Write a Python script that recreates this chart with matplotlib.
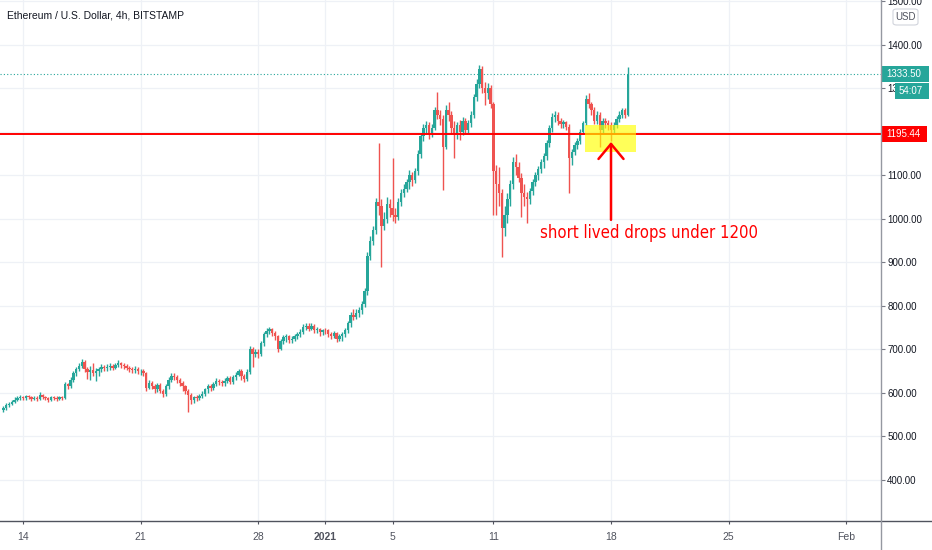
"""ETH/USD 4h candles (Bitstamp) with the 1195 support line and the drop-zone note."""

import matplotlib

matplotlib.use("Agg")

import matplotlib.dates as mdates
import matplotlib.pyplot as plt
import pandas as pd
from matplotlib import font_manager
from matplotlib.font_manager import FontProperties
from matplotlib.lines import Line2D
from matplotlib.patches import FancyBboxPatch, Rectangle
from matplotlib.transforms import blended_transform_factory


# ---- data (4h candles, first one Dec 12 20:00) ----
START = "2020-12-12 20:00"
FIRST_OPEN = 560

CLOSES = [
    565,
    572, 575, 580, 585, 588, 590,          # Dec 13
    588, 592, 590, 586, 589, 587,          # Dec 14
    596, 590, 588, 585, 590, 588,          # Dec 15
    586, 590, 588, 620, 615, 630,          # Dec 16
    645, 655, 662, 672, 655, 648,          # Dec 17
    652, 645, 650, 655, 660, 658,          # Dec 18
    660, 662, 658, 665, 668, 664,          # Dec 19
    662, 658, 656, 652, 655, 650,          # Dec 20
    650, 645, 612, 622, 615, 610,          # Dec 21
    618, 605, 598, 615, 630, 640,          # Dec 22
    636, 630, 622, 615, 605, 596,          # Dec 23
    585, 590, 588, 594, 598, 608,          # Dec 24
    615, 612, 620, 628, 625, 622,          # Dec 25
    628, 634, 626, 636, 642, 650,          # Dec 26
    638, 632, 648, 700, 690, 695,          # Dec 27
    690, 715, 735, 742, 748, 738,          # Dec 28
    730, 702, 720, 728, 730, 722,          # Dec 29
    725, 730, 735, 740, 752, 755,          # Dec 30
    748, 755, 745, 748, 740, 745,          # Dec 31
    744, 735, 730, 738, 725, 730,          # Jan 1
    735, 745, 760, 780, 775, 785,          # Jan 2
    790, 805, 835, 915, 950, 975,          # Jan 3
    1040, 1030, 985, 1000, 1035, 1025,     # Jan 4
    1010, 1005, 1040, 1060, 1070, 1085,    # Jan 5
    1100, 1090, 1110, 1150, 1190, 1210,    # Jan 6
    1215, 1195, 1210, 1250, 1240, 1230,    # Jan 7
    1165, 1250, 1240, 1210, 1195, 1215,    # Jan 8
    1200, 1225, 1205, 1220, 1240, 1280,    # Jan 9
    1310, 1345, 1300, 1290, 1300, 1265,    # Jan 10
    1110, 1080, 1060, 980, 1010, 1045,     # Jan 11
    1080, 1130, 1120, 1095, 1060, 1050,    # Jan 12
    1045, 1065, 1085, 1100, 1115, 1130,    # Jan 13
    1145, 1175, 1210, 1235, 1240, 1225,    # Jan 14
    1218, 1222, 1212, 1140, 1155, 1170,    # Jan 15
    1180, 1200, 1220, 1275, 1265, 1250,    # Jan 16
    1225, 1240, 1205, 1225, 1220, 1215,    # Jan 17
    1205, 1215, 1230, 1240, 1250, 1240,    # Jan 18
    1333.5,
]

HIGHS = [
    570,
    576, 580, 584, 590, 593, 595,
    594, 596, 596, 593, 593, 592,
    602, 598, 593, 590, 594, 593,
    592, 594, 593, 626, 624, 636,
    650, 660, 668, 678, 675, 660,
    662, 668, 658, 660, 666, 665,
    666, 668, 666, 670, 676, 672,
    670, 666, 662, 660, 662, 660,
    656, 655, 648, 630, 628, 620,
    624, 622, 610, 620, 636, 646,
    646, 642, 634, 628, 618, 610,
    600, 594, 596, 598, 604, 612,
    620, 620, 625, 635, 632, 630,
    634, 640, 638, 642, 648, 656,
    655, 644, 654, 708, 706, 702,
    702, 720, 740, 750, 752, 750,
    742, 734, 724, 734, 736, 734,
    732, 736, 740, 746, 758, 760,
    760, 760, 758, 752, 750, 748,
    750, 748, 740, 742, 740, 735,
    740, 750, 766, 786, 792, 792,
    798, 812, 842, 925, 962, 985,
    1048, 1175, 1045, 1015, 1050, 1045,
    1140, 1025, 1048, 1068, 1080, 1092,
    1112, 1108, 1118, 1158, 1198, 1218,
    1225, 1222, 1218, 1258, 1292, 1250,
    1240, 1262, 1268, 1248, 1225, 1222,
    1228, 1235, 1232, 1228, 1248, 1288,
    1322, 1354, 1352, 1315, 1312, 1308,
    1270, 1125, 1120, 1070, 1030, 1060,
    1090, 1143, 1150, 1130, 1105, 1080,
    1062, 1072, 1092, 1108, 1122, 1138,
    1152, 1182, 1216, 1244, 1248, 1245,
    1232, 1228, 1226, 1218, 1162, 1176,
    1186, 1206, 1226, 1285, 1290, 1270,
    1258, 1248, 1245, 1232, 1232, 1228,
    1222, 1222, 1236, 1248, 1256, 1255,
    1350,
]

LOWS = [
    556,
    562, 568, 572, 577, 582, 584,
    584, 585, 586, 582, 583, 582,
    584, 586, 584, 580, 582, 583,
    581, 583, 583, 586, 608, 612,
    625, 640, 650, 658, 648, 632,
    630, 638, 628, 640, 648, 650,
    650, 653, 652, 655, 660, 658,
    655, 652, 649, 645, 646, 644,
    642, 638, 605, 608, 608, 600,
    602, 600, 590, 594, 608, 625,
    630, 624, 616, 605, 598, 556,
    575, 578, 582, 584, 588, 594,
    600, 605, 606, 615, 618, 615,
    616, 622, 620, 620, 630, 638,
    630, 626, 628, 644, 660, 682,
    680, 686, 708, 728, 736, 730,
    722, 695, 698, 712, 718, 715,
    716, 720, 724, 728, 736, 745,
    742, 744, 738, 738, 732, 734,
    736, 728, 724, 726, 718, 720,
    720, 728, 738, 752, 768, 770,
    775, 782, 798, 826, 905, 940,
    965, 1010, 890, 975, 990, 1005,
    995, 990, 998, 1030, 1050, 1062,
    1070, 1075, 1082, 1102, 1140, 1180,
    1195, 1185, 1188, 1205, 1230, 1215,
    1067, 1160, 1225, 1195, 1140, 1185,
    1182, 1192, 1195, 1196, 1212, 1232,
    1272, 1300, 1290, 1262, 1275, 1255,
    1010, 1010, 1030, 913, 960, 990,
    1030, 1070, 1100, 1085, 1005, 1030,
    990, 1035, 1055, 1075, 1090, 1105,
    1118, 1135, 1165, 1200, 1222, 1215,
    1208, 1210, 1205, 1060, 1125, 1148,
    1160, 1172, 1195, 1215, 1255, 1240,
    1218, 1218, 1166, 1198, 1210, 1205,
    1180, 1198, 1208, 1222, 1232, 1232,
    1236,
]

SUPPORT = 1195.44
LAST_PRICE = 1333.50
COUNTDOWN = "54:07"
TICK_DATES = ["2020-12-14", "2020-12-21", "2020-12-28", "2021-01-01", "2021-01-05",
              "2021-01-11", "2021-01-18", "2021-01-25", "2021-02-01"]
TICK_LABELS = ["14", "21", "28", "2021", "5", "11", "18", "25", "Feb"]
PRICE_TICKS = list(range(400, 1600, 100))
ZONE_START, ZONE_END = "2021-01-16 10:50", "2021-01-19 12:00"
ZONE_LOW, ZONE_HIGH = 1154, 1216
NOTE = "short lived drops under 1200"

# ---- styling ----
W, H = 932, 550
UP, DOWN = "#26a69a", "#ef5350"
LINE_RED = "#ff0000"
TEXT = "#131722"
AXIS_TEXT = "#50535e"
GRID = "#eef1f6"
NOTE_WIDTH_PX = 218

plt.rcParams["font.family"] = ["Liberation Sans", "DejaVu Sans"]


def find_condensed_font():
    """Path of an installed condensed regular sans; DejaVu Sans Condensed first."""
    candidates = []
    for entry in font_manager.fontManager.ttflist:
        narrow = ("Narrow" in entry.name or "Condensed" in entry.name
                  or "Condensed" in entry.fname
                  or entry.stretch in ("condensed", "semi-condensed"))
        regular = entry.style == "normal" and entry.weight in (400, "normal", "regular")
        if narrow and regular:
            rank = 0 if "DejaVuSansCondensed.ttf" in entry.fname else 1
            candidates.append((rank, entry.fname))
    return min(candidates)[1] if candidates else None


condensed_path = find_condensed_font()
if condensed_path:
    note_font = FontProperties(fname=condensed_path, size=12)
else:
    note_font = FontProperties(family=["Liberation Sans", "DejaVu Sans"], size=12)

fig = plt.figure(figsize=(W / 100, H / 100), dpi=100)
ax = fig.add_axes([0, 29 / H, 881 / W, 521 / H])

day0 = mdates.date2num(pd.Timestamp("2020-12-14"))
px_per_day = 16.8
ax.set_xlim(day0 - 23 / px_per_day, day0 + 858 / px_per_day)
ymin, ymax = 305.7, 1503.4
ax.set_ylim(ymin, ymax)
price_per_px = (ymax - ymin) / 521

# candles
times = pd.date_range(START, periods=len(CLOSES), freq="4h")
xs = mdates.date2num(times.to_pydatetime())
opens = [FIRST_OPEN] + CLOSES[:-1]
colors = [UP if c >= o else DOWN for o, c in zip(opens, CLOSES)]
bottoms = [min(o, c) for o, c in zip(opens, CLOSES)]
heights = [max(abs(c - o), 1.5) for o, c in zip(opens, CLOSES)]

ax.vlines(xs, LOWS, HIGHS, colors=colors, linewidth=1.0, zorder=2)
ax.bar(xs, heights, bottom=bottoms, width=0.15, color=colors, linewidth=0, zorder=2)

# last price (dotted), support line, and the highlighted zone on top of it
ax.axhline(LAST_PRICE, color=UP, linewidth=0.8, linestyle=(0, (1, 2)), zorder=1.8)
ax.axhline(SUPPORT, color=LINE_RED, linewidth=1.4, zorder=4)
zs, ze = mdates.date2num(pd.Timestamp(ZONE_START)), mdates.date2num(pd.Timestamp(ZONE_END))
ax.add_patch(Rectangle((zs, ZONE_LOW), ze - zs, ZONE_HIGH - ZONE_LOW,
                       facecolor="#ffff00", alpha=0.65, edgecolor="none", zorder=4.5))

# annotation
arrow_x = mdates.date2num(pd.Timestamp("2021-01-18"))
ax.annotate(
    "",
    xy=(arrow_x, 1177),
    xytext=(arrow_x, 998),
    arrowprops=dict(arrowstyle="->,head_length=0.72,head_width=0.6", color=LINE_RED,
                    linewidth=1.8, mutation_scale=15, shrinkA=0, shrinkB=0),
    zorder=5,
)
note = ax.text(mdates.date2num(pd.Timestamp("2021-01-20 06:15")), 956, NOTE, ha="center",
               va="baseline", color=LINE_RED, fontproperties=note_font, zorder=5)

# axes look
for spine in ax.spines.values():
    spine.set_visible(False)
ax.set_xticks(mdates.date2num(pd.to_datetime(TICK_DATES)))
ax.set_xticklabels(TICK_LABELS)
ax.get_xticklabels()[3].set_fontweight("bold")
ax.set_yticks(PRICE_TICKS)
# the 1200 label sits fully under the support tag on the original, so leave it blank
ax.set_yticklabels(["" if p == 1200 else f"{p:.2f}" for p in PRICE_TICKS])
ax.yaxis.tick_right()
ax.tick_params(axis="x", length=2.2, width=0.8, pad=6, labelsize=7.5,
               color=AXIS_TEXT, labelcolor=AXIS_TEXT)
ax.tick_params(axis="y", length=3, width=0.8, pad=1.5, labelsize=7,
               color="#787b86", labelcolor=TEXT)
ax.grid(True, color=GRID, linewidth=0.9)

fig.add_artist(Line2D([0, 1], [29 / H, 29 / H], transform=fig.transFigure,
                      color=AXIS_TEXT, linewidth=1))
fig.add_artist(Line2D([881 / W, 881 / W], [0, 1], transform=fig.transFigure,
                      color="#9598a1", linewidth=1))

# price tags on the scale
tag_trans = blended_transform_factory(fig.transFigure, ax.transData)


def price_tag(price, label, facecolor, left_px, right_px):
    h = 16 * price_per_px
    ax.add_patch(Rectangle((left_px / W, price - h / 2), (right_px - left_px) / W, h,
                           transform=tag_trans, facecolor=facecolor, edgecolor="none",
                           clip_on=False, zorder=6))
    ax.text((left_px + 4) / W, price, label, transform=tag_trans, ha="left", va="center",
            color="white", fontsize=7, clip_on=False, zorder=7)


price_tag(SUPPORT, f"{SUPPORT:.2f}", LINE_RED, 882, 927)
price_tag(LAST_PRICE, f"{LAST_PRICE:.2f}", UP, 882, 929)
price_tag(LAST_PRICE - 17 * price_per_px, COUNTDOWN, UP, 895, 929)

usd_box = FancyBboxPatch((893 / W, 1 - 25 / H), 25 / W, 16 / H,
                         boxstyle="round,pad=0,rounding_size=0.004",
                         transform=fig.transFigure, facecolor="white",
                         edgecolor="#d1d4dc", linewidth=0.8)
fig.add_artist(usd_box)
fig.text(905.5 / W, 1 - 17 / H, "USD", ha="center", va="center", fontsize=7,
         color=AXIS_TEXT)

fig.text(7 / W, 1 - 16 / H, "Ethereum / U.S. Dollar, 4h, BITSTAMP", ha="left",
         va="center", fontsize=7.5, color=TEXT)

# size the note so it spans the same width as on the original chart
fig.canvas.draw()
note_width = note.get_window_extent().width
note.set_fontsize(note_font.get_size() * NOTE_WIDTH_PX / note_width)

fig.savefig("out.png", dpi=100, facecolor="white")
